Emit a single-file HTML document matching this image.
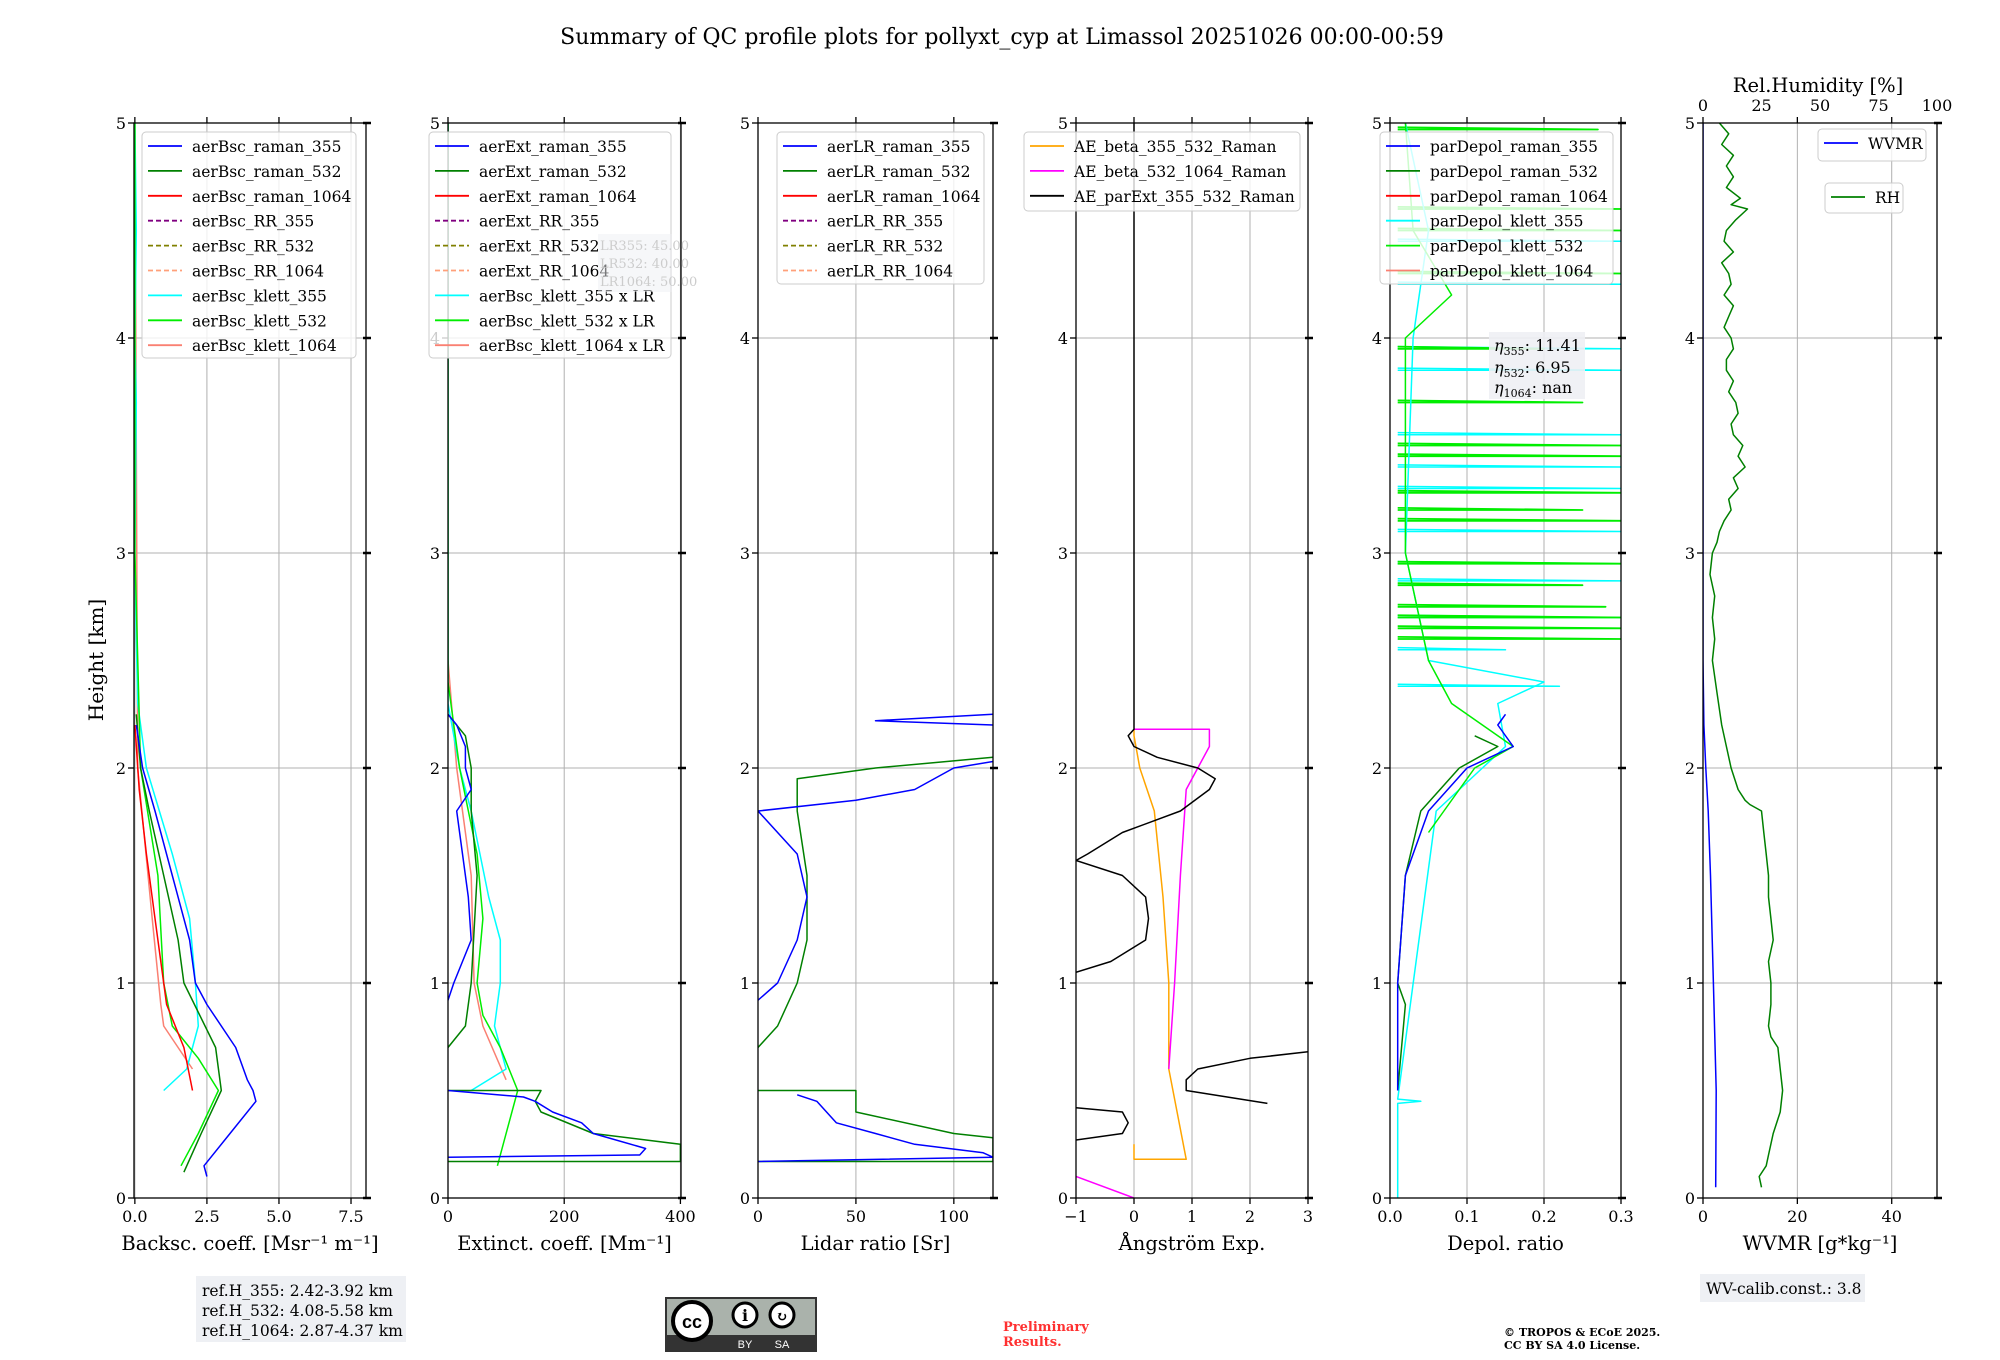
<!DOCTYPE html>
<html><head><meta charset="utf-8"><style>
html,body{margin:0;padding:0;background:#fff;}
svg{display:block;font-family:"DejaVu Serif","Liberation Serif",serif;}
</style></head><body>
<svg id="fig" width="2000" height="1360" viewBox="0 0 2000 1360" xmlns="http://www.w3.org/2000/svg">
<text x="1002" y="44" font-size="22" text-anchor="middle">Summary of QC profile plots for pollyxt_cyp at Limassol 20251026 00:00-00:59</text>
<text transform="translate(103,660) rotate(-90)" font-size="20" text-anchor="middle">Height [km]</text>
<g id="plots"></g>
<g>
<rect x="196" y="1276" width="210" height="66" fill="#eef0f4"/>
<text x="202" y="1296" font-size="15.5">ref.H_355: 2.42-3.92 km</text>
<text x="202" y="1316" font-size="15.5">ref.H_532: 4.08-5.58 km</text>
<text x="202" y="1336" font-size="15.5">ref.H_1064: 2.87-4.37 km</text>
</g>
<g>
<rect x="665" y="1297" width="152" height="55" fill="#333"/>
<rect x="667" y="1299" width="148" height="36" fill="#aab2ab"/>
<circle cx="692" cy="1321" r="19" fill="#fff" stroke="#000" stroke-width="4"/>
<text x="692" y="1328" font-size="18" font-weight="bold" text-anchor="middle" font-family="Liberation Sans,sans-serif">cc</text>
<circle cx="745" cy="1315" r="12" fill="#fff" stroke="#000" stroke-width="3"/>
<text x="745" y="1321" font-size="16" font-weight="bold" text-anchor="middle">i</text>
<circle cx="782" cy="1315" r="12" fill="#fff" stroke="#000" stroke-width="3"/>
<text x="782" y="1321" font-size="14" font-weight="bold" text-anchor="middle">↻</text>
<text x="745" y="1348" font-size="11" fill="#fff" text-anchor="middle" font-family="Liberation Sans,sans-serif">BY</text>
<text x="782" y="1348" font-size="11" fill="#fff" text-anchor="middle" font-family="Liberation Sans,sans-serif">SA</text>
</g>
<text x="1003" y="1331" font-size="13" font-weight="bold" fill="#ff3030">Preliminary</text>
<text x="1003" y="1346" font-size="13" font-weight="bold" fill="#ff3030">Results.</text>
<text x="1504" y="1336" font-size="11" font-weight="bold">© TROPOS &amp; ECoE 2025.</text>
<text x="1504" y="1349" font-size="11" font-weight="bold">CC BY SA 4.0 License.</text>
<g>
<rect x="1700" y="1274" width="165" height="28" fill="#eef0f4"/>
<text x="1706" y="1294" font-size="15.5">WV-calib.const.: 3.8</text>
</g>
</svg>
<script>
// ---------- data ----------
const heightTicks=[0,1,2,3,4,5];
const bscTicks=[0,2.5,5,7.5], bscTickLabels=["0.0","2.5","5.0","7.5"];
const extTicks=[0,200,400];
const lrTicks=[0,50,100];
const aeTicks=[-1,0,1,2,3], aeTickLabels=["\u22121","0","1","2","3"];
const depTicks=[0,0.1,0.2,0.3], depTickLabels=["0.0","0.1","0.2","0.3"];
const wvTicks=[0,20,40];
const rhTicks=[0,25,50,75,100];

const bscRaman355=[[0.1,2.5],[0.15,2.4],[0.3,3.3],[0.45,4.2],[0.5,4.1],[0.55,3.9],[0.7,3.5],[0.9,2.5],[1.0,2.1],[1.2,1.9],[1.5,1.3],[1.8,0.7],[2.0,0.27],[2.2,0.05]];
const bscRaman532=[[0.12,1.7],[0.3,2.3],[0.5,3.0],[0.7,2.8],[1.0,1.7],[1.2,1.5],[1.5,1.0],[1.8,0.5],[2.0,0.2],[2.25,0.05]];
const bscRaman1064=[[0.5,2.0],[0.7,1.7],[0.9,1.1],[1.0,1.0],[1.3,0.7],[1.6,0.4],[1.9,0.15],[2.2,0.0]];
const bscKlett355=[[0.5,1.0],[0.6,1.8],[0.8,2.2],[1.0,2.1],[1.3,1.9],[1.6,1.3],[2.0,0.4],[2.3,0.1],[2.6,0.05],[3.0,0.0],[3.7,0.05],[4.0,0.0],[4.5,0.05],[5.0,0.0]];
const bscKlett532=[[0.15,1.6],[0.3,2.2],[0.5,2.9],[0.65,2.2],[0.8,1.3],[1.0,1.0],[1.5,0.8],[2.0,0.2],[3.0,0.0],[5.0,0.0]];
const bscKlett1064=[[0.6,2.0],[0.8,1.0],[0.9,0.9],[1.3,0.6],[2.0,0.1],[5.0,0.0]];

const extRaman355=[[0.19,0],[0.2,330],[0.23,340],[0.3,250],[0.35,230],[0.4,180],[0.45,150],[0.47,130],[0.5,0]];
const extRaman355b=[[0.92,0],[1.0,10],[1.2,40],[1.4,35],[1.6,25],[1.8,15],[1.9,40],[2.0,30],[2.1,30],[2.2,15],[2.25,0]];
const extRaman532=[[0.17,0],[0.17,400],[0.25,400],[0.3,250],[0.4,160],[0.45,150],[0.5,160],[0.5,0]];
const extRaman532b=[[0.7,0],[0.8,30],[1.0,40],[1.5,50],[1.8,40],[2.0,40],[2.15,30],[2.25,0]];
const extKlett355=[[0.5,40],[0.6,100],[0.8,80],[1.0,90],[1.2,90],[1.4,70],[1.8,40],[2.0,20],[2.3,0],[5.0,0]];
const extKlett532=[[0.15,85],[0.5,120],[0.7,90],[0.85,60],[1.0,50],[1.3,60],[1.6,50],[2.0,20],[2.4,0],[5.0,0]];
const extKlett1064=[[0.55,100],[0.8,60],[1.0,45],[1.5,40],[2.0,15],[2.5,0]];

const lrRaman355=[[0.17,0],[0.19,120],[0.21,115],[0.25,80],[0.3,60],[0.35,40],[0.45,30],[0.48,20]];
const lrRaman355b=[[0.92,0],[1.0,10],[1.2,20],[1.4,25],[1.6,20],[1.8,0],[1.85,50],[1.9,80],[2.0,100],[2.03,120]];
const lrRaman355c=[[2.2,120],[2.22,60],[2.25,120]];
const lrRaman532=[[0.17,0],[0.17,120],[0.28,120],[0.3,100],[0.4,50],[0.5,50],[0.5,0]];
const lrRaman532b=[[0.7,0],[0.8,10],[1.0,20],[1.2,25],[1.5,25],[1.8,20],[1.95,20],[2.0,60],[2.05,120]];

const aeBeta355532=[[0.25,0],[0.18,0],[0.18,0.9],[0.6,0.6],[1.0,0.6],[1.4,0.5],[1.8,0.35],[2.0,0.1],[2.15,0.0],[2.18,0]];
const aeBeta5321064a=[[0.1,-1],[0,0]];
const aeBeta5321064=[[0.6,0.6],[1.0,0.7],[1.5,0.8],[1.9,0.9],[2.0,1.1],[2.1,1.3],[2.18,1.3],[2.18,0]];
const aeExt1=[[0.27,-1],[0.3,-0.2],[0.35,-0.1],[0.4,-0.2],[0.42,-1]];
const aeExt2=[[0.44,2.3],[0.5,0.9],[0.55,0.9],[0.6,1.1],[0.65,2.0],[0.68,3]];
const aeExt3=[[1.05,-1],[1.1,-0.4],[1.2,0.2],[1.3,0.25],[1.4,0.2],[1.5,-0.2],[1.57,-1],[1.6,-0.8],[1.7,-0.2],[1.8,0.8],[1.9,1.3],[1.95,1.4],[2.0,1.1],[2.05,0.4],[2.1,0.0],[2.15,-0.1],[2.18,0.0],[5.0,0.0]];

const depRaman355=[[0.5,0.01],[1.0,0.01],[1.5,0.02],[1.8,0.05],[2.0,0.1],[2.1,0.16],[2.2,0.14],[2.25,0.15]];
const depRaman532=[[0.5,0.01],[0.9,0.02],[1.0,0.01],[1.5,0.02],[1.8,0.04],[2.0,0.09],[2.1,0.14],[2.15,0.11]];
const depKlett355=[[0,0.01],[0.44,0.01],[0.45,0.04],[0.46,0.01],[1.8,0.06],[2.0,0.12],[2.1,0.15],[2.3,0.14],[2.4,0.2],[2.5,0.05],[3.0,0.02],[4.0,0.03],[4.5,0.05],[5,0.02]];
const depKlett532=[[1.7,0.05],[2.0,0.11],[2.1,0.16],[2.3,0.08],[2.5,0.05],[3.0,0.02],[4.0,0.02],[4.2,0.08],[4.5,0.03],[5,0.02]];
const depSpikeH532=[2.6,2.65,2.7,2.75,2.85,2.95,3.15,3.2,3.28,3.45,3.5,3.7,3.95,4.3,4.5,4.6,4.97];
const depSpikeV532=[0.3,0.3,0.3,0.28,0.25,0.3,0.3,0.25,0.3,0.3,0.3,0.25,0.2,0.3,0.3,0.3,0.27];
const depSpikeH355=[2.38,2.55,2.7,2.87,2.95,3.1,3.3,3.4,3.55,3.85,3.95,4.25,4.45];
const depSpikeV355=[0.22,0.15,0.3,0.3,0.3,0.3,0.3,0.3,0.3,0.3,0.3,0.3,0.3];

const wvmr=[[0.05,2.7],[0.5,2.8],[1.0,2.2],[1.5,1.6],[1.8,1.1],[2.0,0.6],[2.2,0.2],[2.5,0.0],[5.0,0.0]];
const rh=[[0.05,25],[0.1,24],[0.15,27],[0.2,28],[0.3,30],[0.4,33],[0.5,34],[0.6,33],[0.7,32],[0.75,29],[0.8,28],[0.9,29],[1.0,29],[1.1,28],[1.2,30],[1.3,29],[1.4,28],[1.5,28],[1.6,27],[1.7,26],[1.8,25],[1.83,20],[1.85,18],[1.9,15],[2.0,12],[2.1,10],[2.2,8],[2.35,6],[2.5,4],[2.6,5],[2.7,4],[2.8,5],[2.9,3],[3.0,4],[3.05,6],[3.1,7],[3.15,9],[3.2,12],[3.25,11],[3.3,15],[3.35,13],[3.4,18],[3.45,15],[3.5,17],[3.55,13],[3.6,12],[3.65,15],[3.7,14],[3.75,11],[3.8,13],[3.85,10],[3.9,10],[3.95,13],[4.0,12],[4.05,9],[4.1,11],[4.15,13],[4.2,9],[4.25,12],[4.3,11],[4.35,8],[4.4,13],[4.45,9],[4.5,10],[4.55,14],[4.6,19],[4.62,12],[4.65,16],[4.7,10],[4.75,13],[4.8,10],[4.85,13],[4.9,8],[4.95,11],[5.0,7]];

// ---------- drawing ----------
const NS="http://www.w3.org/2000/svg";
const root=document.getElementById('plots');
const Y0=1198, YT=123;
function yS(h){return Y0-(h/5)*(Y0-YT);}
function mk(tag,attrs,parent){const e=document.createElementNS(NS,tag);for(const k in attrs)e.setAttribute(k,attrs[k]);(parent||root).appendChild(e);return e;}
const panels=[
 {x0:134,x1:366,min:-0.03,max:8.02,ticks:bscTicks,labels:bscTickLabels,xlabel:"Backsc. coeff. [Msr\u207B\u00B9 m\u207B\u00B9]"},
 {x0:448,x1:681,min:0,max:401,ticks:extTicks,labels:["0","200","400"],xlabel:"Extinct. coeff. [Mm\u207B\u00B9]"},
 {x0:758,x1:993,min:0,max:120,ticks:lrTicks,labels:["0","50","100"],xlabel:"Lidar ratio [Sr]"},
 {x0:1076,x1:1308,min:-1,max:3,ticks:aeTicks,labels:aeTickLabels,xlabel:"\u00C5ngstr\u00F6m Exp."},
 {x0:1390,x1:1621,min:0,max:0.3,ticks:depTicks,labels:depTickLabels,xlabel:"Depol. ratio"},
 {x0:1703,x1:1937,min:0,max:49.6,ticks:wvTicks,labels:["0","20","40"],xlabel:"WVMR [g*kg\u207B\u00B9]"}
];
function xS(p,v){return p.x0+(v-p.min)/(p.max-p.min)*(p.x1-p.x0);}
function line(p,data,color,w,name,g,dash,xf){
  const f=xf||(v=>xS(p,v));
  const d=data.map((pt,i)=>(i?'L':'M')+f(pt[1]).toFixed(1)+','+yS(pt[0]).toFixed(1)).join('');
  const e=mk('path',{d:d,fill:'none',stroke:color,'stroke-width':w,'stroke-linejoin':'round'},g);
  if(dash)e.setAttribute('stroke-dasharray',dash);
  
  
  return e;
}
panels.forEach((p,i)=>{
  const g=mk('g',{});
  
  
  p.g=g;
  const cp=mk('clipPath',{id:'cp'+i},g);
  mk('rect',{x:p.x0,y:YT,width:p.x1-p.x0,height:Y0-YT},cp);
  p.plot=mk('g',{'clip-path':'url(#cp'+i+')'},g);
  p.ticks.forEach((t,k)=>{
    const x=xS(p,t);
    const gl=mk('line',{x1:x,x2:x,y1:YT,y2:Y0,stroke:'#b0b0b0','stroke-width':1},p.plot);
    
    
    mk('line',{x1:x,x2:x,y1:Y0,y2:Y0+6,stroke:'#000','stroke-width':1.3},g);
    mk('line',{x1:x,x2:x,y1:YT,y2:YT-6,stroke:'#000','stroke-width':1.3},g);
    const tl=mk('text',{x:x,y:Y0+24,'font-size':16,'text-anchor':'middle'},g);
    tl.textContent=p.labels[k];
    
    
  });
  heightTicks.forEach(h=>{
    const y=yS(h);
    if(h>0&&h<5){const hl=mk('line',{x1:p.x0,x2:p.x1,y1:y,y2:y,stroke:'#b0b0b0','stroke-width':1},p.plot);
      
      }
    mk('line',{x1:p.x0-6,x2:p.x0,y1:y,y2:y,stroke:'#000','stroke-width':1.3},g);
    mk('line',{x1:p.x1-3,x2:p.x1+5,y1:y,y2:y,stroke:'#000','stroke-width':2.5},g);
    const tl=mk('text',{x:p.x0-8,y:y+6,'font-size':16,'text-anchor':'end'},g);
    tl.textContent=String(h);
    
    
  });
  const xl=mk('text',{x:(p.x0+p.x1)/2,y:1250,'font-size':19.5,'text-anchor':'middle'},g);
  xl.textContent=p.xlabel;
  
  
});
const [P1,P2,P3,P4,P5,P6]=panels;
line(P1,bscKlett1064,'#fa8072',1.5,'series-bsc-klett-1064',P1.plot);
line(P1,bscKlett355,'#00ffff',1.5,'series-bsc-klett-355',P1.plot);
line(P1,bscKlett532,'#00ee00',1.5,'series-bsc-klett-532',P1.plot);
line(P1,bscRaman1064,'#ff0000',1.5,'series-bsc-raman-1064',P1.plot);
line(P1,bscRaman532,'#008000',1.5,'series-bsc-raman-532',P1.plot);
line(P1,bscRaman355,'#0000ff',1.5,'series-bsc-raman-355',P1.plot);
line(P2,extKlett1064,'#fa8072',1.5,'series-ext-klett-1064',P2.plot);
line(P2,extKlett355,'#00ffff',1.5,'series-ext-klett-355',P2.plot);
line(P2,extKlett532,'#00ee00',1.5,'series-ext-klett-532',P2.plot);
line(P2,extRaman532,'#008000',1.5,'series-ext-raman-532',P2.plot);
line(P2,extRaman532b,'#008000',1.5,'series-ext-raman-532-upper',P2.plot);
line(P2,extRaman355,'#0000ff',1.5,'series-ext-raman-355',P2.plot);
line(P2,extRaman355b,'#0000ff',1.5,'series-ext-raman-355-upper',P2.plot);
line(P3,lrRaman532,'#008000',1.5,'series-lr-raman-532',P3.plot);
line(P3,lrRaman532b,'#008000',1.5,'series-lr-raman-532-upper',P3.plot);
line(P3,lrRaman355,'#0000ff',1.5,'series-lr-raman-355',P3.plot);
line(P3,lrRaman355b,'#0000ff',1.5,'series-lr-raman-355-upper',P3.plot);
line(P3,lrRaman355c,'#0000ff',1.5,'series-lr-raman-355-top',P3.plot);
line(P4,aeBeta355532,'#ffa500',1.5,'series-ae-beta-355-532',P4.plot);
line(P4,aeBeta5321064a,'#ff00ff',1.5,'series-ae-beta-532-1064-low',P4.plot);
line(P4,aeBeta5321064,'#ff00ff',1.5,'series-ae-beta-532-1064',P4.plot);
line(P4,aeExt1,'#000',1.5,'series-ae-parext-low',P4.plot);
line(P4,aeExt2,'#000',1.5,'series-ae-parext-mid',P4.plot);
line(P4,aeExt3,'#000',1.5,'series-ae-parext',P4.plot);
depSpikeH355.forEach((h,k)=>{line(P5,[[h,0.01],[h,depSpikeV355[k]],[h+0.01,0.01]],'#00ffff',1.5,'spike-klett-355',P5.plot);});
depSpikeH532.forEach((h,k)=>{line(P5,[[h,0.01],[h,depSpikeV532[k]],[h+0.01,0.01]],'#00ee00',1.8,'spike-klett-532',P5.plot);});
line(P5,depKlett355,'#00ffff',1.5,'series-depol-klett-355',P5.plot);
line(P5,depKlett532,'#00ee00',1.5,'series-depol-klett-532',P5.plot);
line(P5,depRaman532,'#008000',1.5,'series-depol-raman-532',P5.plot);
line(P5,depRaman355,'#0000ff',1.5,'series-depol-raman-355',P5.plot);
const rhX=v=>P6.x0+v/100*(P6.x1-P6.x0);
line(P6,wvmr,'#0000ff',1.5,'series-wvmr',P6.plot);
line(P6,rh,'#008000',1.5,'series-rh',P6.plot,null,rhX);
rhTicks.forEach(t=>{
  const x=rhX(t);
  const tl=mk('text',{x:x,y:111,'font-size':16,'text-anchor':'middle'},P6.g);
  tl.textContent=String(t);
  
  
});
const rt=mk('text',{x:1818,y:92,'font-size':19.5,'text-anchor':'middle'},P6.g);
rt.textContent='Rel.Humidity [%]';


panels.forEach(p=>{
  const s=mk('rect',{x:p.x0,y:YT,width:p.x1-p.x0,height:Y0-YT,fill:'none',stroke:'#000','stroke-width':1.3},p.g);
  
  
});
function legend(x,y,w,h,entries,name,rowH){
  const g=mk('g',{});
  
  
  mk('rect',{x:x,y:y,width:w,height:h,rx:4,fill:'#fff','fill-opacity':0.8,stroke:'#ccc'},g);
  entries.forEach((en,k)=>{
    const cy=y+14+k*rowH;
    const l=mk('line',{x1:x+6,x2:x+40,y1:cy,y2:cy,stroke:en[1],'stroke-width':1.8},g);
    if(en[2])l.setAttribute('stroke-dasharray','5,3');
    const t=mk('text',{x:x+50,y:cy+6,'font-size':15.5},g);
    t.textContent=en[0];
    
    
  });
}
legend(142,132,214,226,[['aerBsc_raman_355','#0000ff'],['aerBsc_raman_532','#008000'],['aerBsc_raman_1064','#ff0000'],['aerBsc_RR_355','#800080',1],['aerBsc_RR_532','#808000',1],['aerBsc_RR_1064','#ffa07a',1],['aerBsc_klett_355','#00ffff'],['aerBsc_klett_532','#00ee00'],['aerBsc_klett_1064','#fa8072']],'legend-backscatter',24.9);
legend(429,132,242,226,[['aerExt_raman_355','#0000ff'],['aerExt_raman_532','#008000'],['aerExt_raman_1064','#ff0000'],['aerExt_RR_355','#800080',1],['aerExt_RR_532','#808000',1],['aerExt_RR_1064','#ffa07a',1],['aerBsc_klett_355 x LR','#00ffff'],['aerBsc_klett_532 x LR','#00ee00'],['aerBsc_klett_1064 x LR','#fa8072']],'legend-extinction',24.9);
const lrb=mk('g',{});


mk('rect',{x:598,y:234,width:74,height:58,fill:'#eef0f4','fill-opacity':0.5},lrb);
[['LR355: 45.00',250],['LR532: 40.00',268],['LR1064: 50.00',286]].forEach(a=>{const t=mk('text',{x:600,y:a[1],'font-size':13,fill:'#ccc'},lrb);t.textContent=a[0];});
legend(777,132,207,152,[['aerLR_raman_355','#0000ff'],['aerLR_raman_532','#008000'],['aerLR_raman_1064','#ff0000'],['aerLR_RR_355','#800080',1],['aerLR_RR_532','#808000',1],['aerLR_RR_1064','#ffa07a',1]],'legend-lidar-ratio',24.9);
legend(1024,132,276,79,[['AE_beta_355_532_Raman','#ffa500'],['AE_beta_532_1064_Raman','#ff00ff'],['AE_parExt_355_532_Raman','#000']],'legend-angstrom',24.9);
legend(1380,132,233,152,[['parDepol_raman_355','#0000ff'],['parDepol_raman_532','#008000'],['parDepol_raman_1064','#ff0000'],['parDepol_klett_355','#00ffff'],['parDepol_klett_532','#00ee00'],['parDepol_klett_1064','#fa8072']],'legend-depol',24.9);
legend(1818,129,108,32,[['WVMR','#0000ff']],'legend-wvmr',24);
legend(1825,183,78,30,[['RH','#008000']],'legend-rh',24);
const eb=mk('g',{});


mk('rect',{x:1489,y:332,width:96,height:67,fill:'#eef0f4','fill-opacity':0.9},eb);
[['η','355',': 11.41',351],['η','532',': 6.95',373],['η','1064',': nan',393]].forEach(a=>{
  const t=mk('text',{x:1494,y:a[3],'font-size':16},eb);
  t.innerHTML='<tspan font-style="italic">'+a[0]+'</tspan><tspan font-size="11" dy="4">'+a[1]+'</tspan><tspan dy="-4">'+a[2]+'</tspan>';
});
</script>
</body></html>
